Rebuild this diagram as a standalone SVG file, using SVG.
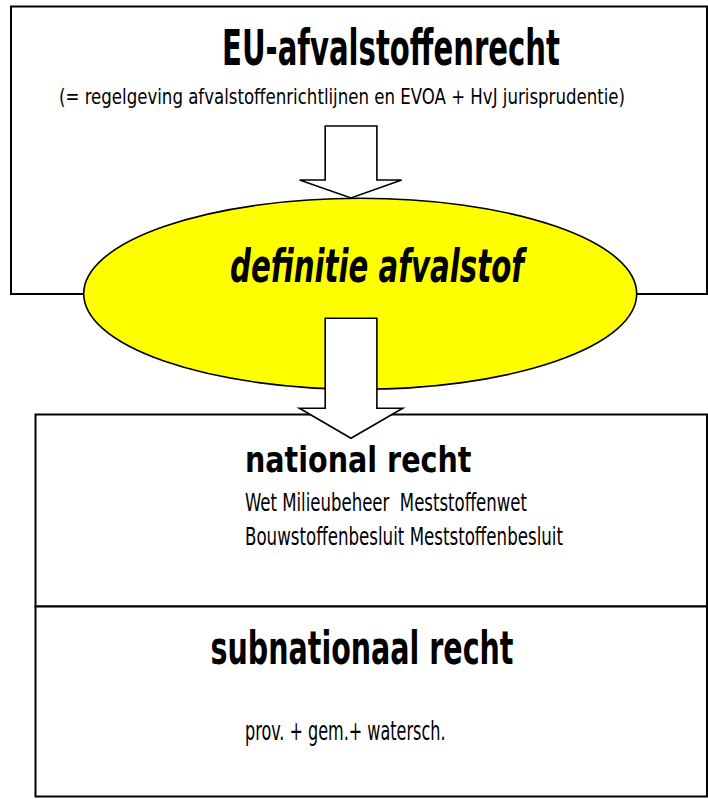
<svg xmlns="http://www.w3.org/2000/svg" width="708" height="799" viewBox="0 0 708 799">
<style>
.box{fill:#ffffff;stroke:#000;stroke-width:2}
.ell{fill:#ffff00;stroke:#000;stroke-width:1.6}
.arrow{fill:#ffffff;stroke:#000;stroke-width:1.6;stroke-linejoin:miter}
text{font-family:"DejaVu Sans Condensed","DejaVu Sans","Liberation Sans",sans-serif;fill:#000}
.big{font-weight:bold}
.small{font-weight:normal}
</style>
<rect width="708" height="799" fill="#ffffff"/>
<g id="eu">
<rect class="box" x="11" y="6.5" width="696" height="287.5"/>
<text class="big" transform="translate(222,65) scale(0.6,1)" x="0" y="0" font-size="50" textLength="563.3" lengthAdjust="spacingAndGlyphs">EU-afvalstoffenrecht</text>
<text class="small" transform="translate(59,103.5) scale(0.75,1)" x="0" y="0" font-size="22" textLength="754.7" lengthAdjust="spacingAndGlyphs">(= regelgeving afvalstoffenrichtlijnen en EVOA + HvJ jurisprudentie)</text>
</g>
<g id="definitie">
<ellipse class="ell" cx="360.2" cy="293.8" rx="276.5" ry="95.5"/>
<text class="big" x="230" y="282" font-size="46" font-style="italic" textLength="294" lengthAdjust="spacingAndGlyphs">definitie afvalstof</text>
</g>
<g id="national">
<rect class="box" x="35.5" y="414.5" width="671.5" height="192"/>
<text class="big" x="245" y="471.5" font-size="35" textLength="226.5" lengthAdjust="spacingAndGlyphs">national recht</text>
<text class="small" x="245" y="511" font-size="24" textLength="282" lengthAdjust="spacingAndGlyphs" xml:space="preserve">Wet Milieubeheer  Meststoffenwet</text>
<text class="small" x="245" y="545" font-size="24" textLength="318" lengthAdjust="spacingAndGlyphs">Bouwstoffenbesluit Meststoffenbesluit</text>
</g>
<g id="subnationaal">
<rect class="box" x="35.5" y="606.5" width="671.5" height="190"/>
<text class="big" x="210.5" y="664.3" font-size="46" textLength="303" lengthAdjust="spacingAndGlyphs">subnationaal recht</text>
<text class="small" x="245" y="740" font-size="27" textLength="200.5" lengthAdjust="spacingAndGlyphs">prov. + gem.+ watersch.</text>
</g>
<g id="connectors">
<path class="arrow" d="M325.2,126 L376.9,126 L376.9,180 L401.7,180 L351,198 L299.6,180 L325.2,180 Z"/>
<path class="arrow" d="M325.2,318.3 L376.9,318.3 L376.9,408.3 L402.7,408.3 L351,438.3 L299.4,408.3 L325.2,408.3 Z"/>
</g>
</svg>
